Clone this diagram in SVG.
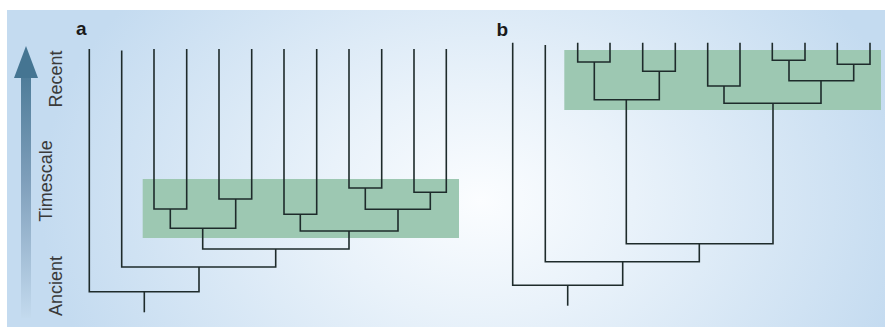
<svg xmlns="http://www.w3.org/2000/svg" width="885" height="327" viewBox="0 0 885 327">
  <defs>
    <radialGradient id="bg" gradientUnits="userSpaceOnUse" cx="480" cy="200" r="440" gradientTransform="translate(480 200) scale(1 0.75) translate(-480 -200)">
      <stop offset="0" stop-color="#fbfdff"/>
      <stop offset="0.35" stop-color="#e9f2fa"/>
      <stop offset="1" stop-color="#c4dbf0"/>
    </radialGradient>
    <linearGradient id="arrowGrad" x1="0" y1="45" x2="0" y2="318" gradientUnits="userSpaceOnUse">
      <stop offset="0" stop-color="#40728f"/>
      <stop offset="0.5" stop-color="#7f9fbb"/>
      <stop offset="1" stop-color="#c3daee"/>
    </linearGradient>
    <style>
      .t { fill: none; stroke: #1e2b2b; stroke-width: 1.6; stroke-linejoin: miter; stroke-linecap: butt; }
      .hl { fill: #9dc8b2; }
      .lab { font-family: "Liberation Sans", Arial, sans-serif; font-size: 18px; fill: #3a3a3a; text-anchor: middle; }
      .panel { font-family: "Liberation Sans", Arial, sans-serif; font-size: 19px; font-weight: bold; fill: #1a1a1a; }
    </style>
  </defs>

  <rect x="0" y="0" width="885" height="327" fill="#ffffff"/>
  <rect x="7" y="10" width="878" height="317" fill="url(#bg)"/>

  <g id="axis">
    <path d="M21,77 L31,77 L31,318 L21,318 Z" fill="url(#arrowGrad)"/>
    <path d="M14,78 L26,46 L38,78 Z" fill="#457592"/>
    <text class="lab" transform="translate(62 79) rotate(-90)">Recent</text>
    <text class="lab" transform="translate(52 181) rotate(-90)">Timescale</text>
    <text class="lab" transform="translate(62 286) rotate(-90)">Ancient</text>
  </g>

  <g id="panel-a">
    <text class="panel" x="76" y="35">a</text>
    <rect id="highlight-a" class="hl" x="142.7" y="179" width="316.3" height="59"/>
  </g>

  <g id="panel-b">
    <text class="panel" x="496.5" y="35.5">b</text>
    <rect id="highlight-b" class="hl" x="564.3" y="50" width="316.7" height="60"/>
  </g>

  <g id="connectors">
    <g id="tree-a">
      <!-- pair 3-4 -->
      <path class="t" d="M154,49 V209 H186.7 V49"/>
      <!-- pair 5-6 -->
      <path class="t" d="M219,49 V199 H251.7 V49"/>
      <path class="t" d="M170.3,209 V228.3 H235.7 V199"/>
      <!-- pair 7-8 -->
      <path class="t" d="M284,49 V214.3 H316.7 V49"/>
      <!-- pair 9-10 -->
      <path class="t" d="M349,49 V188 H381.7 V49"/>
      <!-- pair 11-12 -->
      <path class="t" d="M414,49 V192.3 H446.3 V49"/>
      <path class="t" d="M365.3,188 V209.3 H430.3 V192.3"/>
      <path class="t" d="M300.3,214.3 V231 H398 V209.3"/>
      <path class="t" d="M202.7,228.3 V249 H349 V231"/>
      <!-- leaf 2 -->
      <path class="t" d="M121.7,50.5 V267 H275.7 V249"/>
      <!-- leaf 1 and root -->
      <path class="t" d="M89.3,49 V291.7 H199 V267"/>
      <path class="t" d="M144.3,291.7 V312.3"/>
    </g>
    <g id="tree-b">
      <path class="t" d="M577.7,42.7 V62 H610 V42.7"/>
      <path class="t" d="M642.7,42.7 V71.3 H675.3 V42.7"/>
      <path class="t" d="M594.3,62 V99.7 H659.3 V71.3"/>
      <path class="t" d="M707.7,42.7 V86 H740 V42.7"/>
      <path class="t" d="M772.3,42.7 V60.3 H805 V42.7"/>
      <path class="t" d="M837.3,42.7 V64.3 H870 V42.7"/>
      <path class="t" d="M789,60.3 V80.7 H853.7 V64.3"/>
      <path class="t" d="M724,86 V103.3 H821 V80.7"/>
      <path class="t" d="M626.3,99.7 V243.7 H773 V103.3"/>
      <path class="t" d="M545.3,45 V261.7 H699.3 V243.7"/>
      <path class="t" d="M512.7,42.7 V285.3 H622.7 V261.7"/>
      <path class="t" d="M567.7,285.3 V305.7"/>
    </g>
  </g>
</svg>
